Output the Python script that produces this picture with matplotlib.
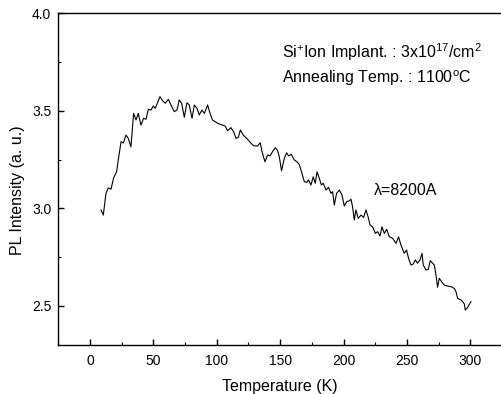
import numpy as np
import matplotlib as mpl
mpl.use('Agg')
import matplotlib.pyplot as plt
from matplotlib.ticker import MultipleLocator

plt.rcParams['font.family'] = ['Liberation Sans', 'DejaVu Sans']
plt.rcParams['mathtext.default'] = 'regular'
plt.rcParams['font.size'] = 10

# temperature (K)
temp = [8.7, 10.5, 12.6, 14.4, 16.6, 18.6, 21.0, 22.3, 24.5, 26.3, 28.4, 30.2, 32.3, 34.4,
        36.3, 38.1, 40.2, 42.3, 44.2, 46.0, 48.1, 49.9, 51.5, 53.3, 55.2, 57.3, 59.4, 61.8,
        63.9, 66.5, 68.6, 70.4, 72.3, 74.4, 76.5, 78.3, 80.5, 82.3, 84.4, 86.2, 88.3, 90.2,
        92.8, 94.7, 96.7, 100.7, 104.6, 106.7, 108.5, 111.2, 113.3, 115.2, 117.0, 118.6,
        120.9, 124.3, 127.0, 129.1, 132.2, 134.3, 135.7, 138.0, 140.1, 142.0, 144.0, 146.2,
        148.0, 149.3, 151.1, 153.3, 155.1, 156.7, 158.8, 161.2, 163.3, 165.1, 167.2, 169.0,
        170.9, 172.4, 174.3, 176.1, 177.7, 179.1, 180.9, 182.5, 184.0, 186.2, 188.2, 190.1,
        191.4, 192.7, 194.5, 196.7, 198.8, 200.6, 202.4, 204.5, 205.9, 207.1, 208.5, 209.8,
        211.6, 213.8, 215.8, 217.7, 219.5, 220.9, 222.9, 225.1, 226.9, 228.8, 230.3, 232.2,
        234.0, 236.1, 238.7, 241.4, 243.4, 245.3, 247.9, 249.7, 251.3, 253.2, 255.0, 256.6,
        258.4, 260.3, 261.9, 262.9, 265.0, 266.9, 268.4, 270.3, 271.6, 272.9, 274.2, 275.5,
        277.4, 279.5, 282.1, 284.8, 287.4, 288.7, 290.0, 292.7, 293.9, 295.3, 296.0, 297.9,
        300.5]
# PL intensity (a. u.)
pl = [2.992, 2.966, 3.077, 3.105, 3.099, 3.156, 3.188, 3.248, 3.342, 3.335, 3.376, 3.359,
      3.316, 3.487, 3.453, 3.487, 3.427, 3.462, 3.457, 3.508, 3.504, 3.525, 3.513, 3.542,
      3.573, 3.552, 3.539, 3.559, 3.530, 3.496, 3.504, 3.556, 3.539, 3.467, 3.542, 3.530,
      3.462, 3.530, 3.513, 3.479, 3.504, 3.487, 3.530, 3.487, 3.453, 3.436, 3.427, 3.422,
      3.398, 3.414, 3.393, 3.359, 3.364, 3.402, 3.376, 3.354, 3.334, 3.321, 3.320, 3.337,
      3.291, 3.239, 3.274, 3.269, 3.291, 3.311, 3.296, 3.265, 3.193, 3.257, 3.285, 3.269,
      3.277, 3.248, 3.239, 3.225, 3.180, 3.138, 3.133, 3.146, 3.120, 3.162, 3.129, 3.188,
      3.154, 3.120, 3.129, 3.094, 3.108, 3.077, 3.086, 3.017, 3.077, 3.094, 3.069, 3.012,
      3.034, 3.039, 3.047, 3.009, 2.941, 2.992, 2.949, 2.966, 2.954, 2.992, 2.954, 2.915,
      2.906, 2.872, 2.881, 2.859, 2.906, 2.872, 2.893, 2.855, 2.847, 2.821, 2.855, 2.812,
      2.770, 2.787, 2.744, 2.710, 2.715, 2.736, 2.719, 2.736, 2.770, 2.710, 2.684, 2.688,
      2.732, 2.719, 2.710, 2.659, 2.596, 2.642, 2.624, 2.607, 2.602, 2.599, 2.590, 2.573,
      2.539, 2.531, 2.522, 2.510, 2.479, 2.493, 2.522]

fig = plt.figure(figsize=(5.02, 3.94), dpi=100)
ax = fig.add_axes([58.3/502, 1-345/394, 443.7/502, (345-13.3)/394])

ax.plot(temp, pl, color='black', lw=0.8)

ax.set_xlim(-25, 325)
ax.set_ylim(2.3, 4.0)
ax.xaxis.set_major_locator(MultipleLocator(50))
ax.xaxis.set_minor_locator(MultipleLocator(25))
ax.yaxis.set_major_locator(MultipleLocator(0.5))
ax.yaxis.set_minor_locator(MultipleLocator(0.25))
ax.xaxis.set_major_formatter(mpl.ticker.FormatStrFormatter('%d'))
ax.yaxis.set_major_formatter(mpl.ticker.FormatStrFormatter('%.1f'))
ax.tick_params(which='both', direction='in', top=False, right=False)
ax.tick_params(which='major', length=4.5, width=1, pad=5, labelsize=10)
ax.tick_params(axis='x', which='major', pad=6.5)
ax.tick_params(which='minor', length=2.5, width=0.8)
ax.spines['right'].set_visible(False)
for s in ['left', 'bottom', 'top']:
    ax.spines[s].set_linewidth(1.0)

ax.set_xlabel('Temperature (K)', fontsize=11.5, labelpad=8)
ax.set_ylabel('PL Intensity (a. u.)', fontsize=11.5)
ax.yaxis.set_label_coords(-0.075, 0.467)

ax.text(151.7, 3.769, r'Si$^{+}$Ion Implant. : 3x10$^{17}$/cm$^{2}$', fontsize=11.5, va='baseline')
ax.text(151.7, 3.641, r'Annealing Temp. : 1100$^{o}$C', fontsize=11.5, va='baseline')
ax.text(224, 3.069, 'λ=8200A', fontsize=11.5, va='baseline')

fig.savefig('out.png', dpi=100)
